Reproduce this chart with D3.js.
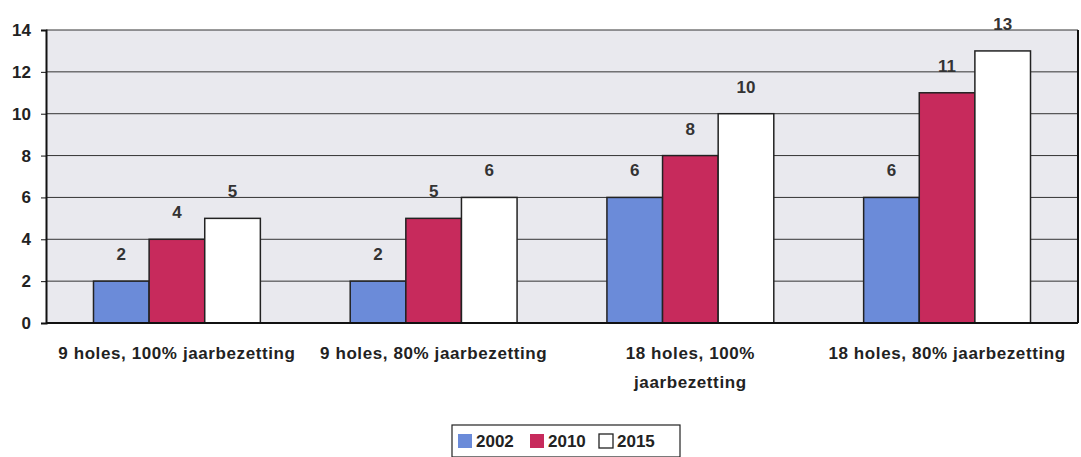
<!DOCTYPE html>
<html>
<head>
<meta charset="utf-8">
<script src="https://cdn.jsdelivr.net/npm/d3@7/dist/d3.min.js"></script>
<style>
  html, body { margin: 0; padding: 0; background: #fff; }
  svg { display: block; font-family: "Liberation Sans", Arial, sans-serif; }
</style>
</head>
<body>
<svg id="chart" width="1081" height="457"></svg>
<script>
const categories = [
  ["9 holes, 100% jaarbezetting"],
  ["9 holes, 80% jaarbezetting"],
  ["18 holes, 100%", "jaarbezetting"],
  ["18 holes, 80% jaarbezetting"]
];
const seriesNames = ["2002", "2010", "2015"];
const values2002 = [2, 2, 6, 6];
const values2010 = [4, 5, 8, 11];
const values2015 = [5, 6, 10, 13];
const yTicks = [0, 2, 4, 6, 8, 10, 12, 14];

const colors = { "2002": "#6b8bd9", "2010": "#c72a5c", "2015": "#ffffff" };
const seriesValues = { "2002": values2002, "2010": values2010, "2015": values2015 };

const svg = d3.select("#chart");
const margin = { left: 46, right: 3, top: 30, bottom: 134 };
const W = 1081, H = 457;
const plotW = W - margin.left - margin.right;
const plotH = H - margin.top - margin.bottom;

const x0 = d3.scaleBand().domain(d3.range(categories.length)).range([0, plotW]).paddingInner(0.35).paddingOuter(0.185);
const x1 = d3.scaleBand().domain(seriesNames).range([0, x0.bandwidth()]);
const y = d3.scaleLinear().domain([0, 14]).range([plotH, 0]);

const g = svg.append("g").attr("transform", `translate(${margin.left},${margin.top})`);

// plot background
g.append("rect").attr("x", 0).attr("y", 0).attr("width", plotW).attr("height", plotH)
  .attr("fill", "#e9e9ee");

// horizontal gridlines
g.append("g").selectAll("line").data(yTicks.filter(t => t > 0)).join("line")
  .attr("x1", 0).attr("x2", plotW)
  .attr("y1", d => y(d)).attr("y2", d => y(d))
  .attr("stroke", "#333").attr("stroke-width", 1);

// y axis
const yAxis = g.append("g").call(d3.axisLeft(y).tickValues(yTicks).tickSize(5).tickPadding(10));
yAxis.select(".domain").attr("stroke", "#111").attr("stroke-width", 2);
yAxis.selectAll(".tick line").attr("stroke", "#111");
yAxis.selectAll("text").attr("font-size", 17).attr("font-weight", "bold").attr("fill", "#222");

// right border
g.append("line").attr("x1", plotW).attr("x2", plotW).attr("y1", 0).attr("y2", plotH)
  .attr("stroke", "#111").attr("stroke-width", 2);

// bars
const groups = g.append("g").selectAll("g").data(categories).join("g")
  .attr("transform", (d, i) => `translate(${x0(i)},0)`);

groups.each(function (d, i) {
  const grp = d3.select(this);
  seriesNames.forEach(s => {
    const v = seriesValues[s][i];
    grp.append("rect")
      .attr("x", x1(s)).attr("y", y(v))
      .attr("width", x1.bandwidth()).attr("height", y(0) - y(v))
      .attr("fill", colors[s]).attr("stroke", "#222").attr("stroke-width", 1.5);
    grp.append("text")
      .attr("x", x1(s) + x1.bandwidth() / 2).attr("y", y(v) - 21)
      .attr("text-anchor", "middle").attr("font-size", 17).attr("font-weight", "bold")
      .attr("fill", "#333").text(v);
  });
});

// x axis baseline
g.append("line").attr("x1", 0).attr("x2", plotW).attr("y1", plotH).attr("y2", plotH)
  .attr("stroke", "#111").attr("stroke-width", 2);

// category labels
const labels = g.append("g").selectAll("text").data(categories).join("text")
  .attr("x", (d, i) => x0(i) + x0.bandwidth() / 2)
  .attr("y", plotH + 36)
  .attr("text-anchor", "middle").attr("font-size", 17).attr("font-weight", "bold")
  .attr("letter-spacing", 0.6).attr("fill", "#222");
labels.each(function (d) {
  const t = d3.select(this);
  d.forEach((line, k) => {
    t.append("tspan").attr("x", t.attr("x")).attr("dy", k === 0 ? 0 : 29).text(line);
  });
});

// legend
const legend = svg.append("g").attr("transform", "translate(452,425)");
legend.append("rect").attr("x", 0).attr("y", 0).attr("width", 228).attr("height", 32)
  .attr("fill", "#fff").attr("stroke", "#222").attr("stroke-width", 1.2);
const itemX = [6, 78, 147];
seriesNames.forEach((s, i) => {
  legend.append("rect").attr("x", itemX[i]).attr("y", 9).attr("width", 14).attr("height", 14)
    .attr("fill", colors[s]).attr("stroke", s === "2015" ? "#222" : "none").attr("stroke-width", 1.3);
  legend.append("text").attr("x", itemX[i] + 18).attr("y", 22)
    .attr("font-size", 17).attr("font-weight", "bold").attr("fill", "#222").text(s);
});
</script>
</body>
</html>
